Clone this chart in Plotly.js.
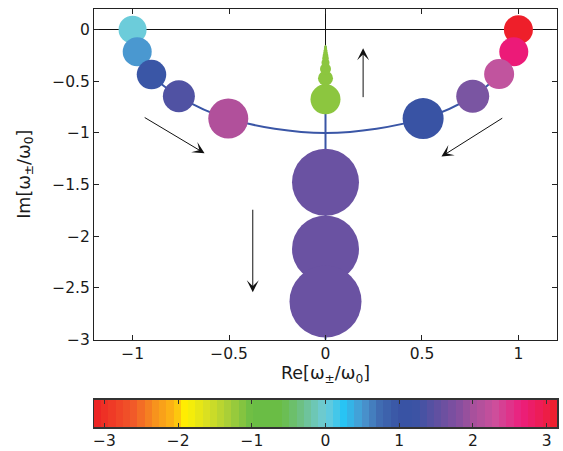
<!DOCTYPE html>
<html>
<head>
<meta charset="utf-8">
<script src="https://cdn.plot.ly/plotly-3.0.1.min.js"></script>
<style>html,body{margin:0;padding:0;background:#fff;}#plot{width:563px;height:451px;}</style>
</head>
<body>
<div id="plot"></div>
<script>
// ---- data ----
// underdamped roots (left branch, then right branch)
const reLeft  = [-1.000, -0.976, -0.902, -0.760, -0.504];
const imLeft  = [ 0.000, -0.213, -0.435, -0.645, -0.861];
const sizeLeft = [28, 29, 29.5, 32, 40];
const colorLeft = ['#6CCCDA', '#4A98D0', '#3A56A6', '#5052A3', '#B1509B'];

const reRight = [1.000, 0.976, 0.900, 0.763, 0.506];
const imRight = [0.000, -0.213, -0.430, -0.645, -0.861];
const sizeRight = [29, 29, 30, 33, 41];
const colorRight = ['#EE1F2A', '#EC1A78', '#C1549E', '#7A55A2', '#3953A4'];

// overdamped roots on the imaginary axis
const imUp   = [-0.674, -0.471, -0.380, -0.321, -0.278, -0.247, -0.222, -0.202, -0.185, -0.171, -0.159];
const sizeUp = [30, 15, 11, 8, 6.5, 5.5, 4.5, 3.8, 3.2, 2.6, 2];
const colorUp = '#8CC63F';

const imDown   = [-1.477, -2.123, -2.633];
const sizeDown = [67, 67, 72];
const colorDown = '#6A52A2';

// locus curves
const arcRe = [-1.000, -0.976, -0.902, -0.760, -0.504, 0.000, 0.506, 0.763, 0.900, 0.976, 1.000];
const arcIm = [ 0.000, -0.213, -0.435, -0.645, -0.861, -1.000, -0.861, -0.645, -0.430, -0.213, 0.000];
const vLocusIm = [-0.159, -0.674, -1.000, -1.477, -2.123, -2.633, -3.119];

// arrows: [head x, head y, tail x, tail y]
const arrows = [
  [-0.627, -1.197, -0.945, -0.842],
  [ 0.601, -1.229,  0.924, -0.848],
  [ 0.195, -0.180,  0.195, -0.668],
  [-0.377, -2.542, -0.377, -1.729]
];

// phase colormap stops (value in radians, colour)
const cmapVals = [-3.1416, -2.6, -2.3, -2.05, -1.9, -1.6, -1.3, -1.0, -0.6, -0.3, 0.0, 0.25, 0.5, 0.75, 1.0, 1.2, 1.5, 1.8, 2.0, 2.3, 2.65, 2.95, 3.1416];
const cmapCols = ['#ED2024', '#F15A29', '#F7941D', '#FDB913', '#FFF200', '#D7DF23', '#A6CE39', '#6ABD45', '#6ABD45', '#6EC18E', '#6DCCDA', '#27C4F4', '#4A98D0', '#3F69B0', '#3953A4', '#3953A4', '#5E50A1', '#844F9F', '#A6509C', '#CD4F9C', '#EC1E7D', '#ED1C50', '#EE2024'];
const colorbarTicks = [-3, -2, -1, 0, 1, 2, 3];
const nBands = 64;

// ---- build ----
const PI = Math.PI;
const colorscale = cmapVals.map((v, i) => [(v + PI) / (2 * PI), cmapCols[i]]);
colorscale[0][0] = 0; colorscale[colorscale.length - 1][0] = 1;
const bandX = [], bandZ = [];
for (let i = 0; i < nBands; i++) {
  const c = -PI + (i + 0.5) * 2 * PI / nBands;
  bandX.push(c); bandZ.push(c);
}

const lineColor = '#3A56A6';
const traces = [
  {x: arcRe, y: arcIm, mode: 'lines', line: {color: lineColor, width: 2, shape: 'spline', smoothing: 1}, hoverinfo: 'skip'},
  {x: vLocusIm.map(() => 0), y: vLocusIm, mode: 'lines', line: {color: lineColor, width: 2}, hoverinfo: 'skip'},
  {x: reLeft, y: imLeft, mode: 'markers', marker: {size: sizeLeft, color: colorLeft, line: {width: 0}, opacity: 1}},
  {x: reRight, y: imRight, mode: 'markers', marker: {size: sizeRight, color: colorRight, line: {width: 0}, opacity: 1}},
  {x: imUp.map(() => 0), y: imUp, mode: 'markers', marker: {size: sizeUp, color: colorUp, line: {width: 0}, opacity: 1}},
  {x: imDown.map(() => 0), y: imDown, mode: 'markers', marker: {size: sizeDown, color: colorDown, line: {width: 0}, opacity: 1}},
  {type: 'heatmap', x: bandX, y: [0.5], z: [bandZ], zmin: -PI, zmax: PI, colorscale: colorscale,
   showscale: false, xaxis: 'x2', yaxis: 'y2', hoverinfo: 'skip'}
];

const txt = '#1a1a1a';
const FAM = 'DejaVu Sans, Liberation Sans, Arial, sans-serif';
const tickFont = {family: FAM, size: 15.5, color: txt};
const annotations = arrows.map(a => ({
  x: a[0], y: a[1], ax: a[2], ay: a[3], xref: 'x', yref: 'y', axref: 'x', ayref: 'y',
  text: '', showarrow: true, arrowhead: 3, arrowsize: 2, arrowwidth: 1, arrowcolor: '#111', standoff: 0, startstandoff: 0
}));

const layout = {
  width: 563, height: 451,
  margin: {l: 94, r: 6, t: 9, b: 24},
  paper_bgcolor: '#fff', plot_bgcolor: '#fff',
  showlegend: false,
  font: {family: FAM, color: txt},
  xaxis: {
    range: [-1.2, 1.2], tickvals: [-1, -0.5, 0, 0.5, 1], ticks: 'inside', ticklen: 5, tickcolor: '#222',
    showline: true, linecolor: '#222', linewidth: 1, mirror: 'ticks', showgrid: false, zeroline: false,
    tickfont: tickFont, anchor: 'y',
    title: {text: 'Re[ω<sub>±</sub>/ω<sub>0</sub>]', font: {family: FAM, size: 17.5, color: txt}, standoff: 2}
  },
  yaxis: {
    domain: [0.2093, 1], range: [-3, 0.2], tickvals: [-3, -2.5, -2, -1.5, -1, -0.5, 0], ticks: 'inside', ticklen: 5, tickcolor: '#222',
    showline: true, linecolor: '#222', linewidth: 1, mirror: 'ticks', showgrid: false,
    zeroline: true, zerolinecolor: '#111', zerolinewidth: 1,
    tickfont: tickFont, anchor: 'x',
    title: {text: 'Im[ω<sub>±</sub>/ω<sub>0</sub>]', font: {family: FAM, size: 17.5, color: txt}, standoff: 17}
  },
  xaxis2: {
    domain: [0, 1], range: [-PI, PI], tickvals: colorbarTicks, ticks: 'inside', ticklen: 4, tickcolor: '#333',
    showline: true, linecolor: '#333', linewidth: 1.5, mirror: 'ticks', showgrid: false, zeroline: false,
    tickfont: tickFont, anchor: 'y2', ticklabelstandoff: -1
  },
  yaxis2: {
    domain: [0, 0.0646], range: [0, 1], showticklabels: false, ticks: '', showline: true, linecolor: '#333',
    linewidth: 1.5, mirror: true, showgrid: false, zeroline: false, anchor: 'x2', fixedrange: true
  },
  shapes: [
    {type: 'line', xref: 'x', yref: 'y', x0: 0, x1: 0, y0: 0.2, y1: -0.3, line: {color: '#111', width: 1}, layer: 'below'}
  ],
  annotations: annotations
};

Plotly.newPlot('plot', traces, layout, {staticPlot: true, displayModeBar: false});
</script>
</body>
</html>
